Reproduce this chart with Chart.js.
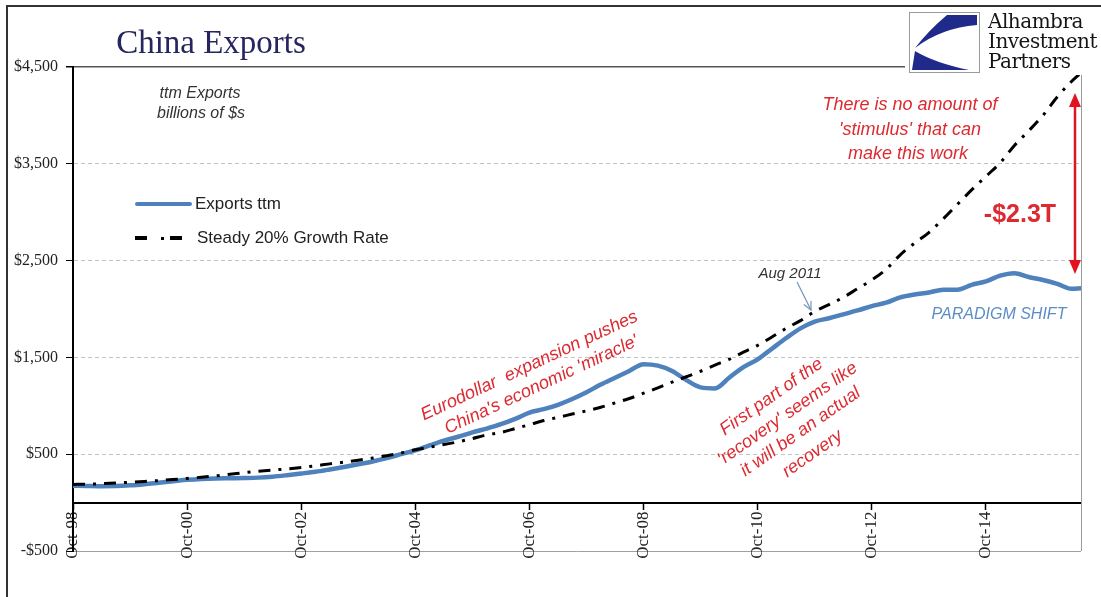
<!DOCTYPE html>
<html>
<head>
<meta charset="utf-8">
<script src="https://cdn.jsdelivr.net/npm/chart.js@4.4.0/dist/chart.umd.min.js"></script>
<style>
  html, body { margin: 0; padding: 0; background: #fff; }
  #wrap { position: relative; width: 1101px; height: 597px; overflow: hidden; font-family: "Liberation Sans", Arial, sans-serif; }
  #wrap canvas { position: absolute; left: 0; top: 0; }
  .frame { position: absolute; left: 6px; top: 5px; width: 1200px; height: 700px; border-left: 2px solid #333; border-top: 2px solid #333; }
  .t { position: absolute; white-space: pre; transform: translate(-50%, -50%); line-height: 1; }
  .red { color: #dd2a30; font-style: italic; font-size: 18px; }
  #logo { position: absolute; left: 905px; top: 8px; width: 196px; height: 67px; background: #fff; }
  #logo .name { position: absolute; left: 83px; top: 3px; font-family: "DejaVu Serif", serif; font-size: 20px; line-height: 20px; color: #151515; letter-spacing: -0.5px; }
  svg.over { position: absolute; left: 0; top: 0; pointer-events: none; }
</style>
</head>
<body>
<div id="wrap">
  <canvas id="chart" width="1101" height="597"></canvas>
  <div class="frame"></div>

  <div class="t" style="left:211px;top:42px;font-family:'Liberation Serif',serif;font-size:33px;color:#26265f;">China Exports</div>

  <div id="logo">
    <svg width="76" height="66" style="position:absolute;left:0;top:0;">
      <rect x="4.5" y="4.5" width="70" height="60" fill="#fff" stroke="#9a9a9a" stroke-width="1"/>
      <path d="M72 7 L42 7 Q24 22 10 40 Q36 20 72 17 Z" fill="#1f2a8a"/>
      <path d="M10 43 Q30 55 64 62 L7 62 Z" fill="#1f2a8a"/>
    </svg>
    <div class="name">Alhambra<br>Investment<br>Partners</div>
  </div>

  <div class="t" style="left:200px;top:93px;font-style:italic;font-size:16px;color:#333;">ttm Exports</div>
  <div class="t" style="left:201px;top:113px;font-style:italic;font-size:16px;color:#333;">billions of $s</div>

  <div style="position:absolute;left:135px;top:202px;width:57px;height:4px;background:#4f81bd;border-radius:2px;"></div>
  <div style="position:absolute;left:195px;top:194px;font-size:17px;color:#222;">Exports ttm</div>
  <div style="position:absolute;left:135px;top:236px;width:12px;height:4px;background:#000;"></div>
  <div style="position:absolute;left:161px;top:237px;width:3px;height:3px;background:#000;"></div>
  <div style="position:absolute;left:170px;top:236px;width:12px;height:4px;background:#000;"></div>
  <div style="position:absolute;left:197px;top:228px;font-size:17px;color:#222;">Steady 20% Growth Rate</div>

  <div class="t red" style="left:910px;top:104px;">There is no amount of</div>
  <div class="t red" style="left:910px;top:129px;">'stimulus' that can</div>
  <div class="t red" style="left:908px;top:153px;">make this work</div>
  <div class="t" style="left:1020px;top:213px;color:#dd2a30;font-weight:bold;font-size:25px;">-$2.3T</div>

  <div class="t" style="left:790px;top:272px;font-style:italic;font-size:15px;color:#333;">Aug 2011</div>
  <div class="t" style="left:999px;top:314px;font-style:italic;font-size:16px;color:#5b8cc6;">PARADIGM SHIFT</div>

  <div class="t red" style="left:529px;top:365px;transform:translate(-50%,-50%) rotate(-25deg);">Eurodollar  expansion pushes</div>
  <div class="t red" style="left:541px;top:384px;transform:translate(-50%,-50%) rotate(-25deg);">China's economic 'miracle'</div>

  <div class="t red" style="left:771px;top:396px;transform:translate(-50%,-50%) rotate(-35deg);">First part of the</div>
  <div class="t red" style="left:787px;top:413px;transform:translate(-50%,-50%) rotate(-35deg);">'recovery' seems like</div>
  <div class="t red" style="left:800px;top:431px;transform:translate(-50%,-50%) rotate(-35deg);">it will be an actual</div>
  <div class="t red" style="left:812px;top:453px;transform:translate(-50%,-50%) rotate(-35deg);">recovery</div>

  <svg class="over" width="1101" height="597">
    <line x1="1075" y1="104" x2="1075" y2="262" stroke="#e0141e" stroke-width="2.5"/>
    <polygon points="1075,93 1069,107 1081,107" fill="#e0141e"/>
    <polygon points="1075,274 1069,260 1081,260" fill="#e0141e"/>
    <line x1="797" y1="282" x2="811" y2="310" stroke="#7796b8" stroke-width="1.2"/>
    <polyline points="811,301 811,310 803.8,304.6" fill="none" stroke="#7796b8" stroke-width="1.2"/>
  </svg>
</div>

<script>
// quarterly points, Oct-98 .. Jun-16
const dates = [
  '1998-10',
  '1999-01', '1999-04', '1999-07', '1999-10',
  '2000-01', '2000-04', '2000-07', '2000-10',
  '2001-01', '2001-04', '2001-07', '2001-10',
  '2002-01', '2002-04', '2002-07', '2002-10',
  '2003-01', '2003-04', '2003-07', '2003-10',
  '2004-01', '2004-04', '2004-07', '2004-10',
  '2005-01', '2005-04', '2005-07', '2005-10',
  '2006-01', '2006-04', '2006-07', '2006-10',
  '2007-01', '2007-04', '2007-07', '2007-10',
  '2008-01', '2008-04', '2008-07', '2008-10',
  '2009-01', '2009-04', '2009-07', '2009-10',
  '2010-01', '2010-04', '2010-07', '2010-10',
  '2011-01', '2011-04', '2011-07', '2011-10',
  '2012-01', '2012-04', '2012-07', '2012-10',
  '2013-01', '2013-04', '2013-07', '2013-10',
  '2014-01', '2014-04', '2014-07', '2014-10',
  '2015-01', '2015-04', '2015-07', '2015-10',
  '2016-01', '2016-04', '2016-06'
];

// billions of $, trailing twelve months
const exportsTtm = [
  175,
  172, 170, 171, 178,
  190, 205, 220, 235,
  245, 250, 252, 254,
  258, 268, 283, 300,
  318, 342, 368, 396,
  425, 460, 500, 540,
  590, 640, 680, 725,
  765, 810, 865, 930,
  965, 1010, 1070, 1140,
  1220, 1290, 1360, 1430,
  1415, 1360, 1265, 1190,
  1180, 1290, 1400, 1480,
  1590, 1700, 1800, 1870,
  1905, 1945, 1985, 2030,
  2065, 2120, 2150, 2170,
  2200, 2200, 2250, 2285,
  2345, 2370, 2330, 2300,
  2260, 2210, 2215
];

const steadyGrowth = [
  188,
  190, 195, 202, 210,
  218, 227, 238, 250,
  262, 276, 292, 310,
  325, 337, 347, 362,
  380, 400, 418, 438,
  460, 485, 512, 545,
  572, 600, 628, 662,
  700, 725, 765, 805,
  848, 880, 915, 948,
  985, 1030, 1075, 1130,
  1185, 1245, 1300, 1357,
  1420, 1480, 1555, 1625,
  1710, 1800, 1880, 1975,
  2045, 2120, 2210, 2300,
  2410, 2560, 2680, 2790,
  2930, 3080, 3230, 3370,
  3510, 3690, 3840, 4000,
  4190, 4350, 4440
];

const yTicks = [-500, 500, 1500, 2500, 3500, 4500];

function monthIndex(d) {
  const [y, m] = d.split('-').map(Number);
  return (y - 1998) * 12 + (m - 10);
}
const xs = dates.map(monthIndex);

const plotFrame = {
  id: 'plotFrame',
  afterDatasetsDraw(chart) {
    const { ctx, chartArea: a } = chart;
    ctx.save();
    ctx.strokeStyle = '#9a9a9a';
    ctx.lineWidth = 1;
    ctx.beginPath();
    ctx.moveTo(a.right + 0.5, a.top);
    ctx.lineTo(a.right + 0.5, a.bottom);
    ctx.stroke();
    ctx.restore();
  }
};

const serif = { family: '"Liberation Serif", "Times New Roman", serif', size: 16 };

new Chart(document.getElementById('chart').getContext('2d'), {
  type: 'line',
  data: {
    datasets: [
      {
        label: 'Exports ttm',
        data: xs.map((x, i) => ({ x, y: exportsTtm[i] })),
        borderColor: '#4f81bd',
        borderWidth: 4.5,
        pointRadius: 0,
        cubicInterpolationMode: 'monotone',
        order: 1
      },
      {
        label: 'Steady 20% Growth Rate',
        data: xs.map((x, i) => ({ x, y: steadyGrowth[i] })),
        borderColor: '#000',
        borderWidth: 3,
        borderDash: [12, 8, 3, 8],
        pointRadius: 0,
        cubicInterpolationMode: 'monotone',
        order: 0
      }
    ]
  },
  options: {
    responsive: false,
    animation: false,
    layout: { padding: { left: 0, top: 67, right: 20, bottom: 46 } },
    plugins: { legend: { display: false }, tooltip: { enabled: false } },
    scales: {
      x: {
        type: 'linear',
        min: 0,
        max: xs[xs.length - 1],
        position: { y: 0 },
        ticks: {
          stepSize: 24,
          includeBounds: false,
          autoSkip: false,
          minRotation: 90,
          maxRotation: 90,
          padding: 3,
          color: '#222',
          font: { family: serif.family, size: 17 },
          callback: v => 'Oct-' + String((98 + v / 12) % 100).padStart(2, '0')
        },
        grid: { drawOnChartArea: false, drawTicks: true, tickLength: 6, tickColor: '#000', tickWidth: 1.5 },
        border: { color: '#000', width: 2 }
      },
      y: {
        min: yTicks[0],
        max: yTicks[yTicks.length - 1],
        afterFit: s => { s.width = 73; },
        ticks: {
          stepSize: 1000,
          padding: 8,
          color: '#222',
          font: serif,
          callback: v => (v < 0 ? '-' : '') + '$' + Math.abs(v).toLocaleString('en-US')
        },
        grid: {
          tickLength: 7,
          tickColor: '#000',
          color: c => c.tick.value === 4500 ? '#555' : (c.tick.value === -500 ? '#a0a0a0' : '#c4c4c4'),
          lineWidth: c => c.tick.value === 4500 ? 1.5 : 1
        },
        border: {
          color: '#000',
          width: 2,
          dash: c => (c.tick && c.tick.value > -500 && c.tick.value < 4500) ? [4, 3] : []
        }
      }
    }
  },
  plugins: [plotFrame]
});
</script>
</body>
</html>
